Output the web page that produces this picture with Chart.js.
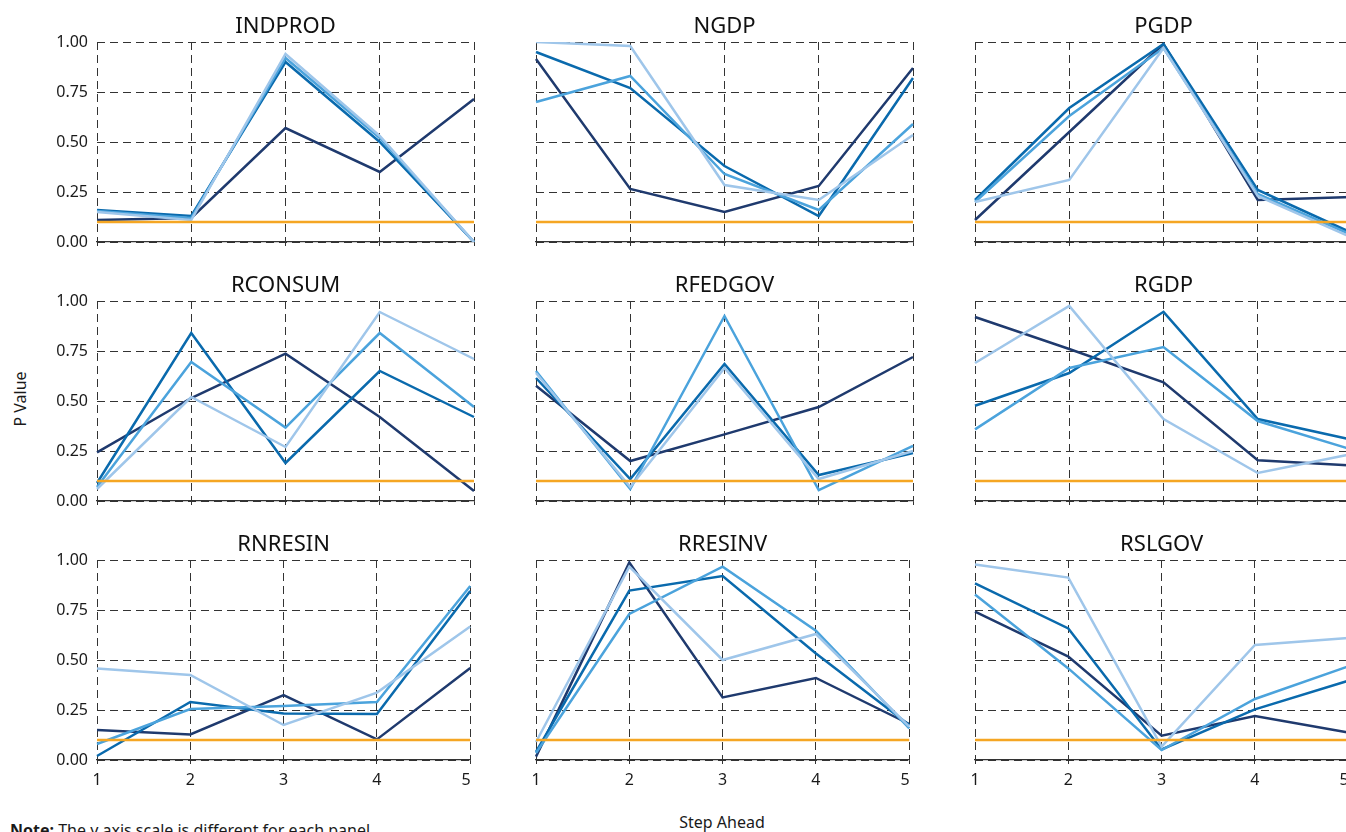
<!DOCTYPE html>
<html>
<head>
<meta charset="utf-8">
<script src="https://cdn.jsdelivr.net/npm/chart.js@4.4.0/dist/chart.umd.min.js"></script>
<style>
html,body{margin:0;padding:0;width:1346px;height:832px;overflow:hidden;background:#fff;font-family:"Noto Sans",sans-serif;color:#1a1a1a;}
.panel{position:absolute;width:486px;height:272px;}
.panel canvas{display:block;}
#ylab{position:absolute;left:20px;top:399px;transform:translate(-50%,-50%) rotate(-90deg);font-size:16px;line-height:20px;white-space:nowrap;}
#xlab{position:absolute;left:722px;top:822px;transform:translate(-50%,-50%);font-size:16px;line-height:20px;white-space:nowrap;}
#note{position:absolute;left:10px;top:820px;font-size:16px;line-height:20px;white-space:nowrap;}
</style>
</head>
<body>
<div id="ylab">P Value</div>
<div id="xlab">Step Ahead</div>
<div id="note"><b>Note:</b> The y axis scale is different for each panel.</div>
<script>
// ---- data ----
const steps = ['1', '2', '3', '4', '5'];
const yTicks = [0, 0.25, 0.5, 0.75, 1];
const threshold = 0.1;
const panelNames = ['INDPROD', 'NGDP', 'PGDP', 'RCONSUM', 'RFEDGOV', 'RGDP', 'RNRESIN', 'RRESINV', 'RSLGOV'];
// each panel: [navy, medium blue, mid blue, light blue]
const INDPROD = [
  [0.11, 0.12, 0.57, 0.35, 0.715],
  [0.16, 0.13, 0.90, 0.50, 0.00],
  [0.155, 0.12, 0.92, 0.52, 0.00],
  [0.15, 0.11, 0.94, 0.53, 0.00]
];
const NGDP = [
  [0.915, 0.265, 0.15, 0.28, 0.87],
  [0.95, 0.77, 0.38, 0.13, 0.82],
  [0.70, 0.83, 0.34, 0.16, 0.59],
  [1.00, 0.98, 0.285, 0.21, 0.535]
];
const PGDP = [
  [0.11, 0.55, 0.99, 0.21, 0.225],
  [0.21, 0.67, 0.99, 0.26, 0.045],
  [0.20, 0.63, 0.97, 0.24, 0.035],
  [0.20, 0.31, 0.97, 0.23, 0.022]
];
const RCONSUM = [
  [0.243, 0.515, 0.737, 0.42, 0.05],
  [0.09, 0.84, 0.19, 0.65, 0.42],
  [0.07, 0.695, 0.367, 0.84, 0.47],
  [0.06, 0.52, 0.27, 0.945, 0.71]
];
const RFEDGOV = [
  [0.576, 0.20, 0.333, 0.47, 0.72],
  [0.615, 0.11, 0.685, 0.13, 0.24],
  [0.65, 0.06, 0.925, 0.054, 0.276],
  [0.64, 0.07, 0.665, 0.11, 0.25]
];
const RGDP = [
  [0.92, 0.76, 0.593, 0.204, 0.177],
  [0.476, 0.64, 0.946, 0.41, 0.306],
  [0.358, 0.665, 0.77, 0.40, 0.257],
  [0.69, 0.975, 0.41, 0.14, 0.235]
];
const RNRESIN = [
  [0.15, 0.128, 0.325, 0.103, 0.46],
  [0.02, 0.29, 0.233, 0.23, 0.845],
  [0.08, 0.255, 0.27, 0.29, 0.87],
  [0.458, 0.425, 0.175, 0.337, 0.667]
];
const RRESINV = [
  [0.017, 0.987, 0.313, 0.41, 0.18],
  [0.04, 0.847, 0.92, 0.533, 0.175],
  [0.035, 0.73, 0.967, 0.647, 0.158],
  [0.09, 0.967, 0.50, 0.63, 0.167]
];
const RSLGOV = [
  [0.742, 0.517, 0.122, 0.22, 0.137],
  [0.883, 0.658, 0.053, 0.253, 0.396],
  [0.828, 0.458, 0.05, 0.305, 0.468],
  [0.978, 0.912, 0.067, 0.575, 0.61]
];
const panelData = [INDPROD, NGDP, PGDP, RCONSUM, RFEDGOV, RGDP, RNRESIN, RRESINV, RSLGOV];

// ---- style ----
const seriesColors = ['#1f3a6e', '#0a6aad', '#4ba3dc', '#9fc6ea'];
const thresholdColor = '#f5a623';
const FONT = '"Noto Sans", sans-serif';
Chart.defaults.font.family = FONT;
Chart.defaults.color = '#1a1a1a';

const colLeft = [0, 439, 878];
const rowTop = [0, 259, 518];

panelNames.forEach((name, i) => {
  const r = Math.floor(i / 3), c = i % 3;
  const div = document.createElement('div');
  div.className = 'panel';
  div.style.left = colLeft[c] + 'px';
  div.style.top = rowTop[r] + 'px';
  const cv = document.createElement('canvas');
  cv.width = 486; cv.height = 272;
  div.appendChild(cv);
  document.body.appendChild(div);

  const datasets = panelData[i].map((vals, k) => ({
    data: vals,
    borderColor: seriesColors[k],
    backgroundColor: seriesColors[k],
    borderWidth: 2.5,
    pointRadius: 0,
    tension: 0,
    fill: false,
    order: 4 - k
  }));
  datasets.push({
    data: steps.map(() => threshold),
    borderColor: thresholdColor,
    backgroundColor: thresholdColor,
    borderWidth: 2.5,
    pointRadius: 0,
    fill: false,
    order: 0
  });

  new Chart(cv, {
    type: 'line',
    data: { labels: steps, datasets },
    options: {
      responsive: false,
      animation: false,
      events: [],
      layout: { padding: { left: 0, right: 12, top: 0, bottom: 0 } },
      plugins: {
        legend: { display: false },
        tooltip: { enabled: false },
        title: {
          display: true,
          fullSize: false,
          text: name,
          color: '#111',
          font: { family: FONT, size: 22, weight: 'normal', lineHeight: 1.2 },
          padding: { top: 14, bottom: 1.6 }
        }
      },
      scales: {
        x: {
          type: 'category',
          offset: false,
          grid: { color: '#333', lineWidth: 1, drawTicks: true, tickLength: 4, tickBorderDash: [], tickColor: '#333', offset: false },
          border: { display: true, color: '#333', width: 1.2, dash: [8, 5] },
          ticks: {
            display: r === 2, font: { size: 16 }, color: '#1a1a1a', padding: 7, maxRotation: 0, autoSkip: false,
            callback: (v, idx) => (idx === steps.length - 1 ? steps[idx] + '\u00a0\u00a0' : steps[idx])
          },
          afterFit: s => { s.height = 30; }
        },
        y: {
          min: 0, max: 1,
          afterBuildTicks: s => { s.ticks = yTicks.map(v => ({ value: v })); },
          grid: { color: '#333', lineWidth: 1, drawTicks: false },
          border: { display: false, dash: [8, 5] },
          ticks: {
            font: { size: 16 }, color: '#1a1a1a', padding: 9,
            callback: v => (c === 0 ? Number(v).toFixed(2) : '')
          },
          afterFit: s => { s.width = 97; }
        }
      }
    }
  });
});
</script>
</body>
</html>
